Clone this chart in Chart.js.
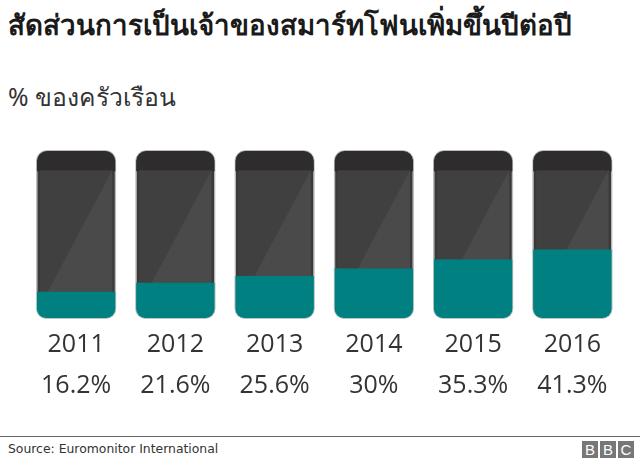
<!DOCTYPE html>
<html lang="th">
<head>
<meta charset="utf-8">
<style>
  body { margin: 0; background: #fff; width: 640px; height: 464px; overflow: hidden; position: relative; font-family: "Noto Sans", "DejaVu Sans", sans-serif; }
  #title { position: absolute; left: 8px; top: 5px; font-size: 27.7px; line-height: 38px; font-weight: bold; color: #1a1a1a; white-space: nowrap; }
  #subtitle { position: absolute; left: 8px; top: 78px; font-size: 24.7px; line-height: 38px; color: #333; white-space: nowrap; }
  #wrap { position: absolute; left: 0; top: 140px; width: 640px; height: 271px; }
  #rule { position: absolute; left: 0; top: 436px; width: 640px; height: 1px; background: #666; }
  #source { position: absolute; left: 8px; top: 441px; font: 12.4px/16px "DejaVu Sans", sans-serif; color: #333; white-space: nowrap; }
  #logo { position: absolute; left: 582px; top: 441px; display: flex; gap: 2px; }
  #logo span { width: 16px; height: 17px; background: #777; color: #fff; font: 15px/17px "Liberation Sans", sans-serif; text-align: center; }
</style>
</head>
<body>
<div id="title">สัดส่วนการเป็นเจ้าของสมาร์ทโฟนเพิ่มขึ้นปีต่อปี</div>
<div id="subtitle">% ของครัวเรือน</div>
<div id="wrap"><canvas id="chart" width="640" height="271"></canvas></div>
<div id="rule"></div>
<div id="source">Source: Euromonitor International</div>
<div id="logo"><span>B</span><span>B</span><span>C</span></div>
<script src="https://cdn.jsdelivr.net/npm/chart.js@4"></script>
<script>
const years = ["2011", "2012", "2013", "2014", "2015", "2016"];
const shares = [16.2, 21.6, 25.6, 30, 35.3, 41.3];
const phoneFull = [100, 100, 100, 100, 100, 100];

// screen of each phone, painted between the body and the teal fill
const phoneScreen = {
  id: "phoneScreen",
  beforeDatasetDraw(chart, args) {
    if (args.index !== 0) return;
    const ctx = chart.ctx;
    const bars = chart.getDatasetMeta(1).data;
    const y = chart.scales.y;
    bars.forEach(bar => {
      const left = bar.x - bar.width / 2;
      const right = bar.x + bar.width / 2;
      const top = y.getPixelForValue(100);
      const screenTop = y.getPixelForValue(88);
      const screenBottom = y.getPixelForValue(14);
      // dark header band
      ctx.save();
      ctx.beginPath();
      ctx.roundRect(left + 1, top + 1, bar.width - 2, screenTop - top, [10, 10, 0, 0]);
      ctx.fillStyle = "#2e2c2c";
      ctx.fill();
      // screen
      ctx.fillStyle = "#404040";
      ctx.fillRect(left + 4, screenTop, bar.width - 8, screenBottom - screenTop);
      // glare
      ctx.beginPath();
      ctx.moveTo(right - 4, screenTop);
      ctx.lineTo(right - 4, screenBottom);
      ctx.lineTo(left + 10, screenBottom);
      ctx.closePath();
      ctx.fillStyle = "#4a4a4a";
      ctx.fill();
      ctx.restore();
    });
  }
};

new Chart(document.getElementById("chart"), {
  type: "bar",
  data: {
    labels: years,
    datasets: [
      {
        label: "% ของครัวเรือน",
        data: shares,
        order: 1,
        backgroundColor: "#008080",
        borderColor: "#bcc8c8",
        borderWidth: 1,
        borderSkipped: "top",
        borderRadius: { topLeft: 0, topRight: 0, bottomLeft: 10, bottomRight: 10 }
      },
      {
        label: "phone",
        data: phoneFull,
        order: 2,
        backgroundColor: "#3a3a3a",
        borderColor: "#bcbcbc",
        borderWidth: 1.5,
        borderSkipped: false,
        borderRadius: 11
      }
    ]
  },
  options: {
    responsive: false,
    animation: false,
    layout: { padding: { left: 26.5, right: 18, top: 10, bottom: 0 } },
    plugins: { legend: { display: false }, tooltip: { enabled: false } },
    scales: {
      x: {
        grid: { display: false, tickLength: 0 },
        border: { display: false },
        ticks: {
          color: "#333",
          padding: 5,
          maxRotation: 0,
          font: { family: "'Open Sans', sans-serif", size: 25, lineHeight: 1.64 },
          callback: (v, i) => [years[i], shares[i] + "%"]
        }
      },
      y: { display: false, min: 0, max: 100 }
    },
    datasets: { bar: { grouped: false, barPercentage: 0.81, categoryPercentage: 1 } }
  },
  plugins: [phoneScreen]
});
</script>
</body>
</html>
